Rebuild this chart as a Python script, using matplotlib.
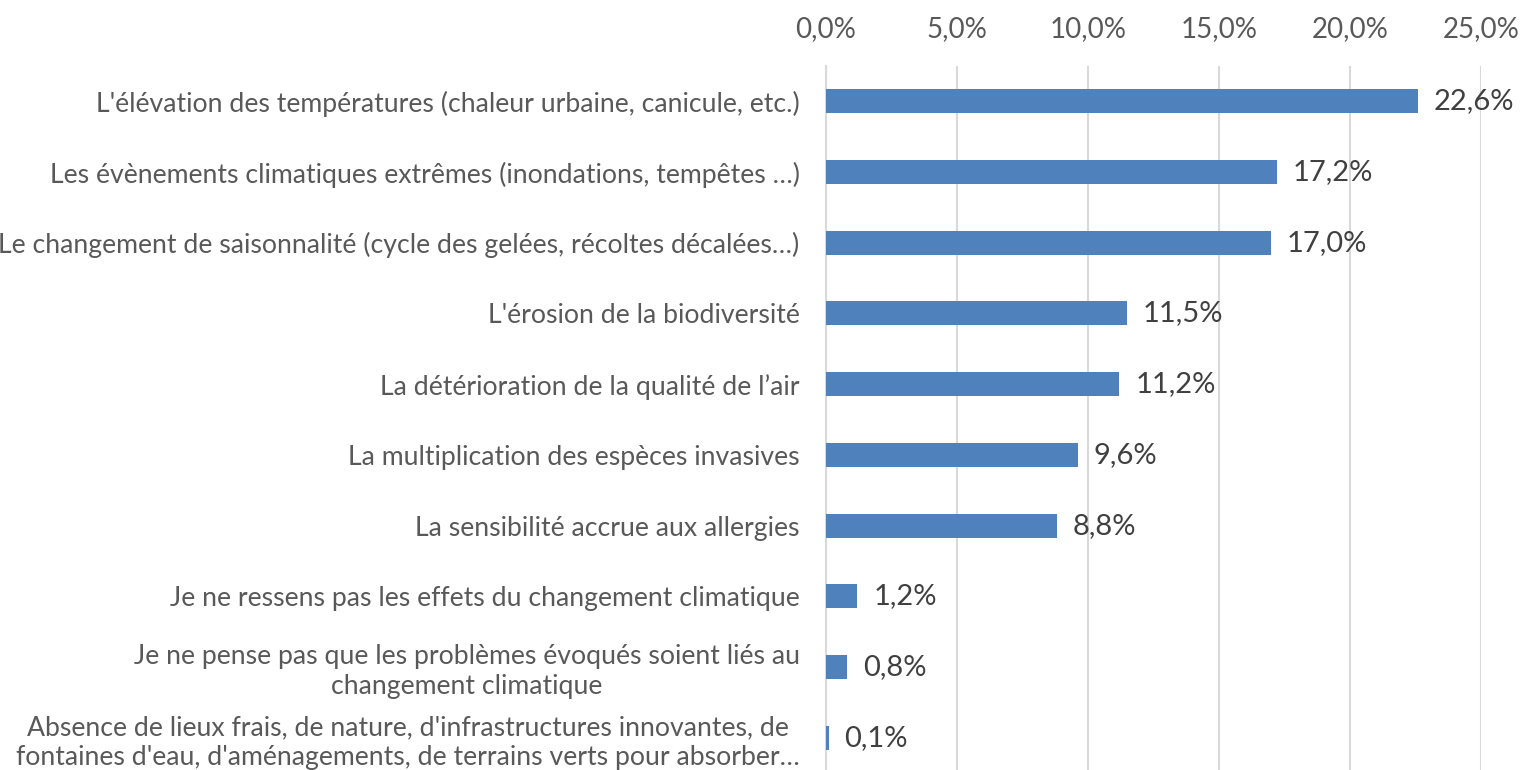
import matplotlib
matplotlib.use("Agg")
import matplotlib.pyplot as plt
from matplotlib.ticker import FuncFormatter

categories = [
    "L'élévation des températures (chaleur urbaine, canicule, etc.)",
    "Les évènements climatiques extrêmes (inondations, tempêtes …)",
    "Le changement de saisonnalité (cycle des gelées, récoltes décalées…)",
    "L'érosion de la biodiversité",
    "La détérioration de la qualité de l’air",
    "La multiplication des espèces invasives",
    "La sensibilité accrue aux allergies",
    "Je ne ressens pas les effets du changement climatique",
    "Je ne pense pas que les problèmes évoqués soient liés au\nchangement climatique",
    "Absence de lieux frais, de nature, d'infrastructures innovantes, de\nfontaines d'eau, d'aménagements, de terrains verts pour absorber…",
]
values = [22.6, 17.2, 17.0, 11.5, 11.2, 9.6, 8.8, 1.2, 0.8, 0.1]
xticks = [0, 5, 10, 15, 20, 25]

plt.rcParams['font.family'] = ['Lato', 'DejaVu Sans']

fig = plt.figure(figsize=(15.24, 7.70), dpi=100)
ax = fig.add_axes([826/1524, 1 - 773/770, (1481-826)/1524, (773-66)/770])

ypos = list(range(len(categories)))
ax.barh(ypos, values, height=0.34, color='#4F81BD', zorder=3)
ax.set_ylim(len(categories) - 0.5, -0.5)
ax.set_xlim(0, 25)
ax.set_xticks(xticks)
ax.xaxis.set_major_formatter(FuncFormatter(lambda v, p: f"{v:.1f}%".replace('.', ',')))
ax.xaxis.tick_top()
ax.tick_params(axis='x', length=0, pad=17, labelsize=20, labelcolor='#595959')
ax.set_yticks(ypos)
ax.set_yticklabels(categories, multialignment='center', linespacing=1.25)
ax.tick_params(axis='y', length=0, pad=19, labelsize=19.2, labelcolor='#595959')
ax.grid(axis='x', color='#D9D9D9', linewidth=1.5, zorder=0)
for s in ['top', 'right', 'bottom']:
    ax.spines[s].set_visible(False)
ax.spines['left'].set_color('#D9D9D9')
ax.spines['left'].set_linewidth(1.5)

for y, v in zip(ypos, values):
    ax.text(v + 0.6, y, f"{v:.1f}%".replace('.', ','), va='center', ha='left',
            fontsize=21, color='#404040')

fig.savefig('out.png', dpi=100)
